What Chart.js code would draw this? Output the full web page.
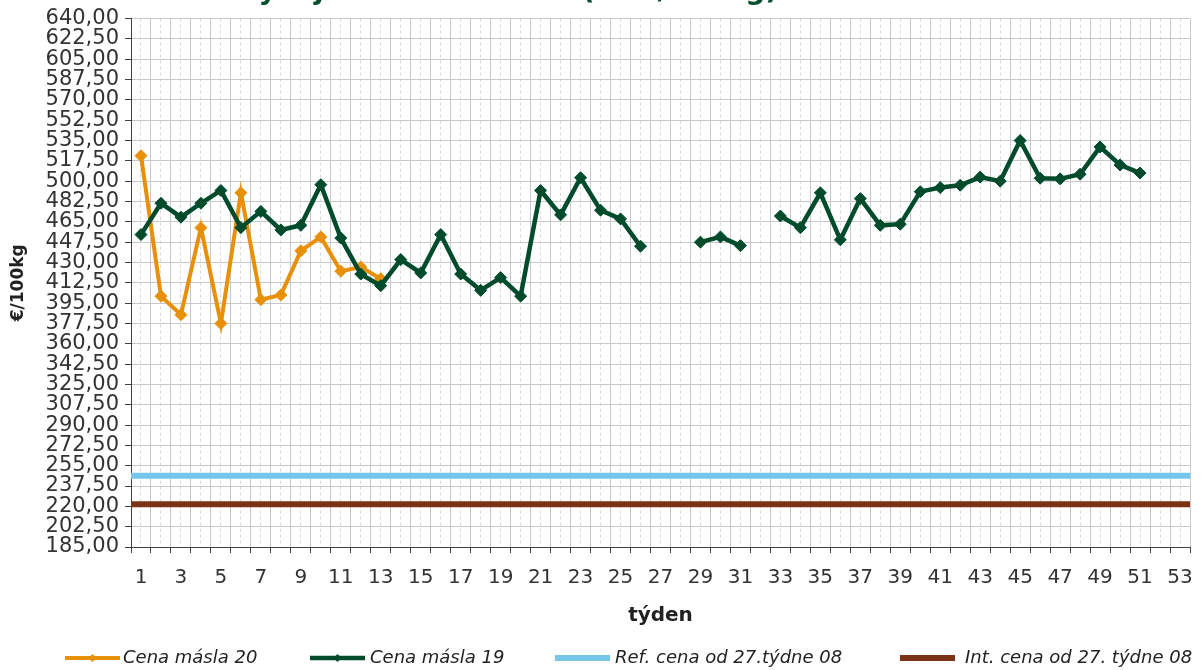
<!DOCTYPE html>
<html>
<head>
<meta charset="utf-8">
<script src="https://cdn.jsdelivr.net/npm/chart.js@4/dist/chart.umd.min.js"></script>
<style>
  html, body { margin: 0; padding: 0; background: #ffffff; }
  #wrap { position: relative; width: 1202px; height: 670px; }
</style>
</head>
<body>
<div id="wrap"><canvas id="c" width="1202" height="670"></canvas></div>
<script>
// ---- data ----
const weeks = ['1','2','3','4','5','6','7','8','9','10','11','12','13','14','15','16','17','18','19','20',
  '21','22','23','24','25','26','27','28','29','30','31','32','33','34','35','36','37','38','39','40',
  '41','42','43','44','45','46','47','48','49','50','51','52','53'];

const butter20 = [522, 401, 385, 460, 377.5, 490, 398, 402, 440, 452, 422.5, 426, 416,
  null, null, null, null, null, null, null, null, null, null, null, null, null, null,
  null, null, null, null, null, null, null, null, null, null, null, null, null,
  null, null, null, null, null, null, null, null, null, null, null, null, null];

const butter19 = [454, 481, 469, 481, 492, 460, 474, 458, 462, 497, 451, 420, 410,
  432.5, 421, 454, 420, 406, 417, 401, 492, 471, 503, 475, 467.5, 444,
  null, null, 447.5, 452, 444.5, null,
  470, 460, 490, 449.5, 485, 462, 463, 491, 494.5, 496.5, 503.5, 500, 535, 502.5, 502, 506, 529.5, 514, 507,
  null, null];

const refPrice = 246.39;
const intPrice = 221.75;

const seriesLabels = ['Cena másla 20', 'Cena másla 19', 'Ref. cena od 27.týdne 08', 'Int. cena od 27. týdne 08'];
const titleText = 'Vývoj cen másla v ČR (EUR/100kg)';
const yTitle = '€/100kg';
const xTitle = 'týden';

// ---- styles ----
const FONT = '"DejaVu Sans", Verdana, sans-serif';
const colOrange = '#E8900A';
const colGreen = '#004B2C';
const colBlue = '#75C6EA';
const colBrown = '#7B3215';

const fmt = v => Number(v).toFixed(2).replace('.', ',');

const extras = {
  id: 'extras',
  afterDraw(chart) {
    const ctx = chart.ctx;
    ctx.save();
    // partially clipped title (as in the reference)
    ctx.font = 'bold 28px ' + FONT;
    ctx.fillStyle = '#00502E';
    ctx.textAlign = 'right';
    ctx.textBaseline = 'alphabetic';
    ctx.fillText(titleText, 778, -1);

    // legend
    const ds = chart.data.datasets;
    const lineX = [65, 310, 555, 900];
    const textX = [123, 370, 615, 965];
    const ly = 658;
    ctx.font = 'oblique 18px ' + FONT;
    ctx.textAlign = 'left';
    ctx.textBaseline = 'middle';
    for (let i = 0; i < ds.length; i++) {
      const d = ds[i];
      ctx.strokeStyle = d.borderColor;
      ctx.lineWidth = d.borderWidth;
      ctx.lineCap = 'butt';
      ctx.beginPath();
      ctx.moveTo(lineX[i], ly);
      ctx.lineTo(lineX[i] + 55, ly);
      ctx.stroke();
      if (d.pointRadius > 0) {
        const cx = lineX[i] + 27.5, r = 4;
        ctx.fillStyle = d.borderColor;
        ctx.beginPath();
        ctx.moveTo(cx, ly - r); ctx.lineTo(cx + r, ly); ctx.lineTo(cx, ly + r); ctx.lineTo(cx - r, ly);
        ctx.closePath(); ctx.fill();
      }
      ctx.fillStyle = '#222';
      ctx.fillText(d.label, textX[i], ly);
    }
    ctx.restore();
  }
};

new Chart(document.getElementById('c'), {
  type: 'line',
  data: {
    labels: weeks,
    datasets: [
      {
        label: seriesLabels[0], data: butter20, xAxisID: 'x', yAxisID: 'y',
        borderColor: colOrange, backgroundColor: colOrange, borderWidth: 4,
        pointStyle: 'rectRot', pointRadius: 6, pointBorderWidth: 1,
        pointBackgroundColor: colOrange, pointBorderColor: colOrange,
        spanGaps: false, tension: 0, order: 2
      },
      {
        label: seriesLabels[1], data: butter19, xAxisID: 'x', yAxisID: 'y',
        borderColor: colGreen, backgroundColor: colGreen, borderWidth: 4.5,
        pointStyle: 'rectRot', pointRadius: 6, pointBorderWidth: 1,
        pointBackgroundColor: colGreen, pointBorderColor: colGreen,
        spanGaps: false, tension: 0, order: 1
      },
      {
        label: seriesLabels[2], data: [{x: 0, y: refPrice}, {x: 1, y: refPrice}],
        xAxisID: 'xh', yAxisID: 'y',
        borderColor: colBlue, backgroundColor: colBlue, borderWidth: 6,
        pointRadius: 0, order: 3
      },
      {
        label: seriesLabels[3], data: [{x: 0, y: intPrice}, {x: 1, y: intPrice}],
        xAxisID: 'xh', yAxisID: 'y',
        borderColor: colBrown, backgroundColor: colBrown, borderWidth: 6,
        pointRadius: 0, order: 4
      }
    ]
  },
  options: {
    responsive: false,
    animation: false,
    devicePixelRatio: 1,
    layout: { padding: { top: 17, right: 12, left: 0, bottom: 42 } },
    plugins: { legend: { display: false }, tooltip: { enabled: false }, title: { display: false } },
    scales: {
      x: {
        type: 'category', labels: weeks, offset: true, position: 'bottom',
        grid: { offset: true, color: '#c8c8c8', lineWidth: 1, tickColor: '#404040', tickLength: 6 },
        border: { color: '#404040', width: 1 },
        ticks: {
          autoSkip: false, maxRotation: 0, minRotation: 0, padding: 13,
          color: '#333', font: { family: FONT, size: 20 },
          callback: (v, i) => (i % 2 === 0 ? weeks[i] : '')
        },
        title: { display: true, text: xTitle, color: '#222', font: { family: FONT, size: 20, weight: 'bold' }, padding: { top: 0, bottom: 0 } },
        afterFit: s => { s.height = 81; s.paddingLeft = 0; s.paddingRight = 0; }
      },
      xc: {
        type: 'category', labels: weeks, offset: true, position: 'bottom',
        grid: { offset: false, color: '#d9d9d9', lineWidth: 1, drawTicks: false },
        border: { display: false, dash: [3, 3] },
        ticks: { display: false },
        afterFit: s => { s.height = 0; s.paddingLeft = 0; s.paddingRight = 0; }
      },
      xh: { type: 'linear', display: false, min: 0, max: 1 },
      y: {
        min: 185, max: 640,
        ticks: { stepSize: 17.5, autoSkip: false, color: '#333', font: { family: FONT, size: 21 }, padding: 6, callback: v => fmt(v) },
        grid: { color: '#c8c8c8', lineWidth: 1, tickColor: '#404040', tickLength: 6 },
        border: { color: '#404040', width: 1 },
        title: { display: true, text: yTitle, color: '#222', font: { family: FONT, size: 17, weight: 'bold' }, padding: { top: 8, bottom: 0 } },
        afterFit: s => { s.width = 131; }
      }
    }
  },
  plugins: [extras]
});
</script>
</body>
</html>
